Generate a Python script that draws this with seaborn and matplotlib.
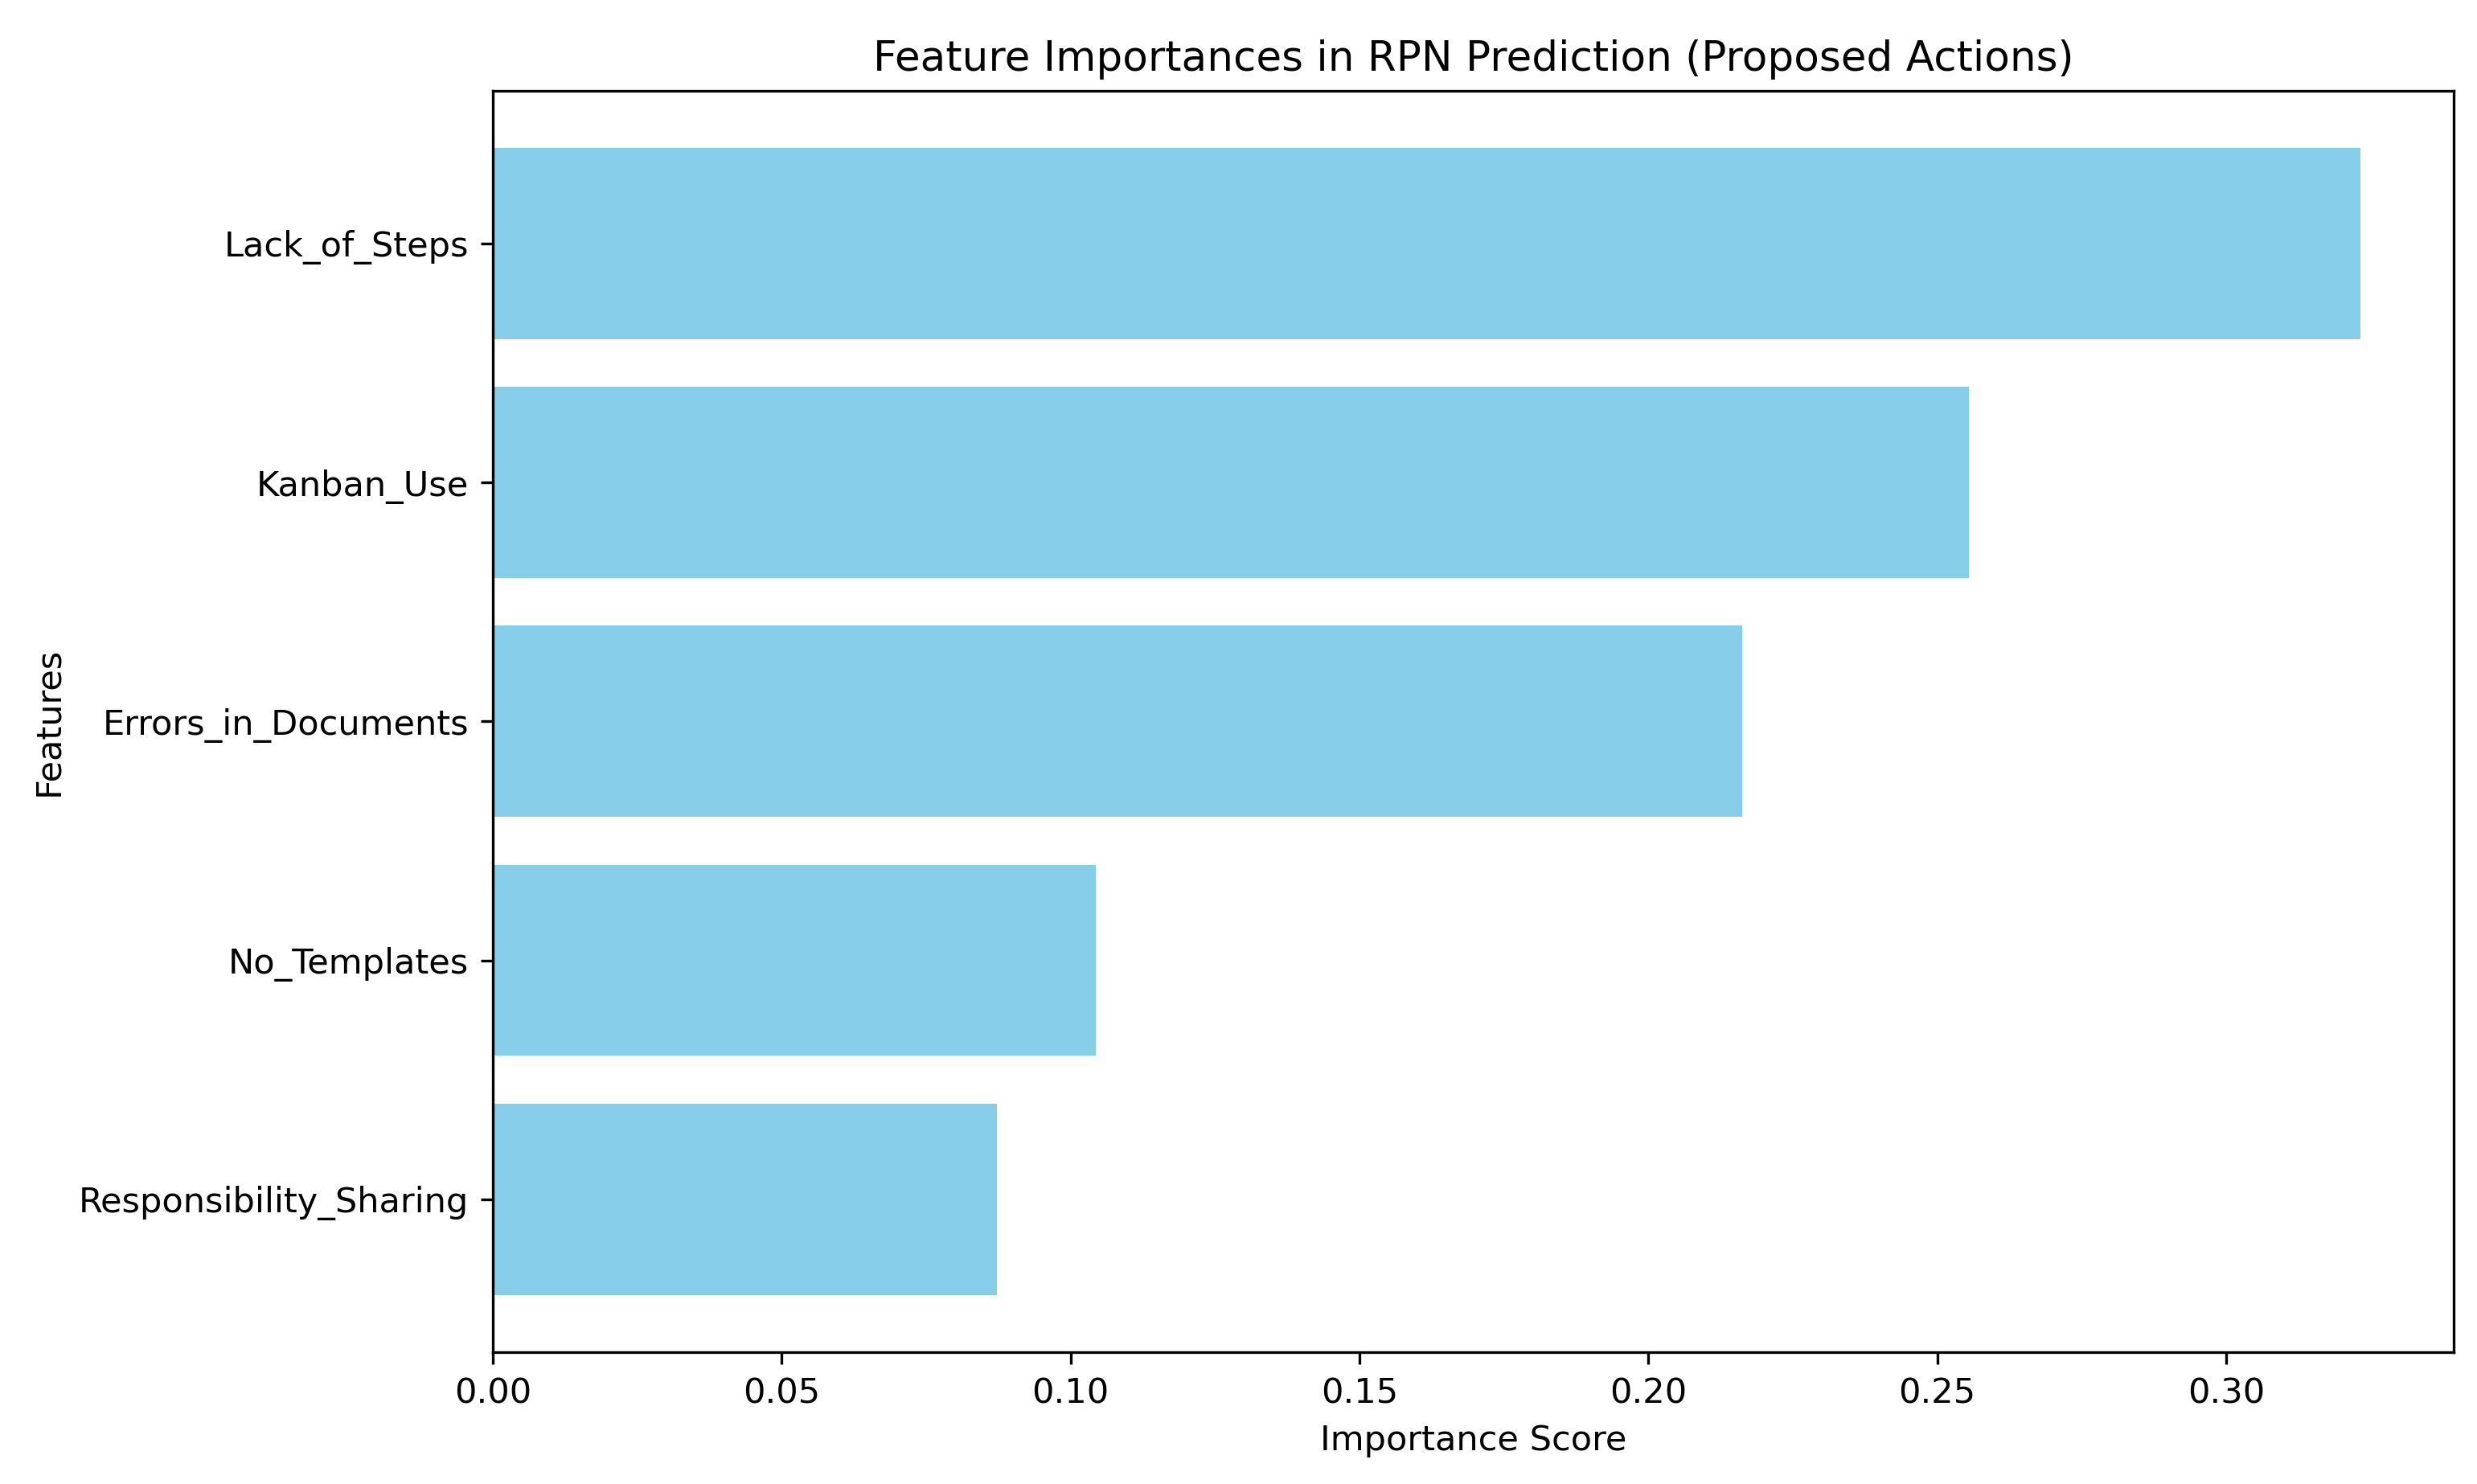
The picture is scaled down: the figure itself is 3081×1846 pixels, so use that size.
#!/usr/bin/env python3
# -*- coding: utf-8 -*-

import pandas as pd
import matplotlib
matplotlib.use('Agg')
import matplotlib.pyplot as plt
import seaborn as sns

# ------------------------------------------------------------------------------
# data
# ------------------------------------------------------------------------------

features = ['Lack_of_Steps', 'Kanban_Use', 'Errors_in_Documents',
            'No_Templates', 'Responsibility_Sharing']
importances = [0.3232, 0.2555, 0.2162, 0.1043, 0.0873]

df = pd.DataFrame({'Feature': features, 'Importance': importances})

# ------------------------------------------------------------------------------
# plot
# ------------------------------------------------------------------------------

# slightly larger text, like the reference
plt.rcParams['font.size'] = 10.35
plt.rcParams['xtick.major.size'] = 3.6
plt.rcParams['ytick.major.size'] = 3.6
plt.rcParams['xtick.major.pad'] = 3.6
plt.rcParams['ytick.major.pad'] = 3.6

# create the figure
fig, ax = plt.subplots(figsize=(3081/300, 1846/300), dpi=300)
fig.subplots_adjust(left=0.199, right=0.9905, top=0.939, bottom=0.0888)

# horizontal barplot, biggest on top
sns.barplot(data=df, y='Feature', x='Importance', order=features,
            color='skyblue', saturation=1, width=0.8, orient='h', ax=ax)

# params
n = len(features)
ax.set_ylim(n - 1 + 0.4 + 0.24, -0.4 - 0.24)
ax.set_xlim(0, max(importances) * 1.05)
ax.set_xlabel('Importance Score')
ax.set_ylabel('Features')
ax.set_title('Feature Importances in RPN Prediction (Proposed Actions)', fontsize=12.4)

# save image
plt.savefig('out.png', dpi=300)
plt.close()
